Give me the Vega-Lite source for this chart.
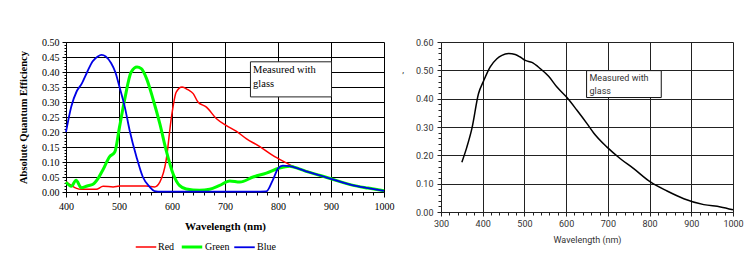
{
  "$schema": "https://vega.github.io/schema/vega-lite/v6.json",
  "background": "white",
  "padding": {"left": 18, "top": 37, "right": 4, "bottom": 4},
  "spacing": 7,
  "config": {
    "view": {"stroke": null}
  },
  "datasets": {
    "rgb": [
      {"channel": "Red", "wavelength": 400, "qe": 0.034},
      {"channel": "Red", "wavelength": 410, "qe": 0.022},
      {"channel": "Red", "wavelength": 420, "qe": 0.012},
      {"channel": "Red", "wavelength": 429, "qe": 0.009},
      {"channel": "Red", "wavelength": 457, "qe": 0.009},
      {"channel": "Red", "wavelength": 470, "qe": 0.019},
      {"channel": "Red", "wavelength": 489, "qe": 0.017},
      {"channel": "Red", "wavelength": 501, "qe": 0.020},
      {"channel": "Red", "wavelength": 551, "qe": 0.020},
      {"channel": "Red", "wavelength": 567, "qe": 0.017},
      {"channel": "Red", "wavelength": 577, "qe": 0.033},
      {"channel": "Red", "wavelength": 589, "qe": 0.106},
      {"channel": "Red", "wavelength": 599, "qe": 0.250},
      {"channel": "Red", "wavelength": 608, "qe": 0.333},
      {"channel": "Red", "wavelength": 619, "qe": 0.350},
      {"channel": "Red", "wavelength": 630, "qe": 0.341},
      {"channel": "Red", "wavelength": 640, "qe": 0.328},
      {"channel": "Red", "wavelength": 649, "qe": 0.300},
      {"channel": "Red", "wavelength": 665, "qe": 0.283},
      {"channel": "Red", "wavelength": 684, "qe": 0.244},
      {"channel": "Red", "wavelength": 702, "qe": 0.222},
      {"channel": "Red", "wavelength": 721, "qe": 0.203},
      {"channel": "Red", "wavelength": 740, "qe": 0.178},
      {"channel": "Red", "wavelength": 765, "qe": 0.152},
      {"channel": "Red", "wavelength": 790, "qe": 0.122},
      {"channel": "Red", "wavelength": 816, "qe": 0.097},
      {"channel": "Red", "wavelength": 828, "qe": 0.086},
      {"channel": "Red", "wavelength": 853, "qe": 0.070},
      {"channel": "Red", "wavelength": 880, "qe": 0.055},
      {"channel": "Red", "wavelength": 900, "qe": 0.044},
      {"channel": "Red", "wavelength": 940, "qe": 0.023},
      {"channel": "Red", "wavelength": 970, "qe": 0.013},
      {"channel": "Red", "wavelength": 1000, "qe": 0.004},
      {"channel": "Green", "wavelength": 400, "qe": 0.033},
      {"channel": "Green", "wavelength": 410, "qe": 0.019},
      {"channel": "Green", "wavelength": 419, "qe": 0.039},
      {"channel": "Green", "wavelength": 429, "qe": 0.014},
      {"channel": "Green", "wavelength": 440, "qe": 0.020},
      {"channel": "Green", "wavelength": 451, "qe": 0.026},
      {"channel": "Green", "wavelength": 460, "qe": 0.044},
      {"channel": "Green", "wavelength": 470, "qe": 0.075},
      {"channel": "Green", "wavelength": 482, "qe": 0.117},
      {"channel": "Green", "wavelength": 492, "qe": 0.133},
      {"channel": "Green", "wavelength": 501, "qe": 0.217},
      {"channel": "Green", "wavelength": 511, "qe": 0.311},
      {"channel": "Green", "wavelength": 523, "qe": 0.400},
      {"channel": "Green", "wavelength": 534, "qe": 0.417},
      {"channel": "Green", "wavelength": 542, "qe": 0.411},
      {"channel": "Green", "wavelength": 552, "qe": 0.378},
      {"channel": "Green", "wavelength": 564, "qe": 0.311},
      {"channel": "Green", "wavelength": 577, "qe": 0.228},
      {"channel": "Green", "wavelength": 589, "qe": 0.139},
      {"channel": "Green", "wavelength": 602, "qe": 0.061},
      {"channel": "Green", "wavelength": 614, "qe": 0.022},
      {"channel": "Green", "wavelength": 627, "qe": 0.010},
      {"channel": "Green", "wavelength": 652, "qe": 0.006},
      {"channel": "Green", "wavelength": 671, "qe": 0.009},
      {"channel": "Green", "wavelength": 690, "qe": 0.022},
      {"channel": "Green", "wavelength": 709, "qe": 0.037},
      {"channel": "Green", "wavelength": 728, "qe": 0.033},
      {"channel": "Green", "wavelength": 753, "qe": 0.050},
      {"channel": "Green", "wavelength": 778, "qe": 0.063},
      {"channel": "Green", "wavelength": 803, "qe": 0.080},
      {"channel": "Green", "wavelength": 822, "qe": 0.086},
      {"channel": "Green", "wavelength": 840, "qe": 0.077},
      {"channel": "Green", "wavelength": 853, "qe": 0.069},
      {"channel": "Green", "wavelength": 880, "qe": 0.055},
      {"channel": "Green", "wavelength": 900, "qe": 0.044},
      {"channel": "Green", "wavelength": 940, "qe": 0.023},
      {"channel": "Green", "wavelength": 970, "qe": 0.013},
      {"channel": "Green", "wavelength": 1000, "qe": 0.004},
      {"channel": "Blue", "wavelength": 400, "qe": 0.200},
      {"channel": "Blue", "wavelength": 410, "qe": 0.285},
      {"channel": "Blue", "wavelength": 420, "qe": 0.335},
      {"channel": "Blue", "wavelength": 430, "qe": 0.362},
      {"channel": "Blue", "wavelength": 440, "qe": 0.400},
      {"channel": "Blue", "wavelength": 450, "qe": 0.435},
      {"channel": "Blue", "wavelength": 460, "qe": 0.452},
      {"channel": "Blue", "wavelength": 467, "qe": 0.457},
      {"channel": "Blue", "wavelength": 475, "qe": 0.452},
      {"channel": "Blue", "wavelength": 485, "qe": 0.430},
      {"channel": "Blue", "wavelength": 493, "qe": 0.400},
      {"channel": "Blue", "wavelength": 501, "qe": 0.350},
      {"channel": "Blue", "wavelength": 511, "qe": 0.283},
      {"channel": "Blue", "wavelength": 520, "qe": 0.206},
      {"channel": "Blue", "wavelength": 533, "qe": 0.117},
      {"channel": "Blue", "wavelength": 545, "qe": 0.050},
      {"channel": "Blue", "wavelength": 558, "qe": 0.017},
      {"channel": "Blue", "wavelength": 567, "qe": 0.003},
      {"channel": "Blue", "wavelength": 580, "qe": 0.001},
      {"channel": "Blue", "wavelength": 650, "qe": 0.001},
      {"channel": "Blue", "wavelength": 750, "qe": 0.001},
      {"channel": "Blue", "wavelength": 778, "qe": 0.002},
      {"channel": "Blue", "wavelength": 790, "qe": 0.039},
      {"channel": "Blue", "wavelength": 800, "qe": 0.078},
      {"channel": "Blue", "wavelength": 809, "qe": 0.088},
      {"channel": "Blue", "wavelength": 822, "qe": 0.086},
      {"channel": "Blue", "wavelength": 840, "qe": 0.077},
      {"channel": "Blue", "wavelength": 853, "qe": 0.069},
      {"channel": "Blue", "wavelength": 880, "qe": 0.055},
      {"channel": "Blue", "wavelength": 900, "qe": 0.044},
      {"channel": "Blue", "wavelength": 940, "qe": 0.023},
      {"channel": "Blue", "wavelength": 970, "qe": 0.013},
      {"channel": "Blue", "wavelength": 1000, "qe": 0.004}
    ],
    "mono": [
      {"wavelength": 350, "qe": 0.176},
      {"wavelength": 362, "qe": 0.229},
      {"wavelength": 374, "qe": 0.294},
      {"wavelength": 390, "qe": 0.418},
      {"wavelength": 402, "qe": 0.462},
      {"wavelength": 418, "qe": 0.512},
      {"wavelength": 434, "qe": 0.541},
      {"wavelength": 446, "qe": 0.553},
      {"wavelength": 462, "qe": 0.559},
      {"wavelength": 478, "qe": 0.556},
      {"wavelength": 490, "qe": 0.547},
      {"wavelength": 502, "qe": 0.535},
      {"wavelength": 518, "qe": 0.528},
      {"wavelength": 538, "qe": 0.506},
      {"wavelength": 558, "qe": 0.479},
      {"wavelength": 578, "qe": 0.441},
      {"wavelength": 602, "qe": 0.404},
      {"wavelength": 626, "qe": 0.359},
      {"wavelength": 650, "qe": 0.312},
      {"wavelength": 666, "qe": 0.279},
      {"wavelength": 698, "qe": 0.229},
      {"wavelength": 730, "qe": 0.188},
      {"wavelength": 762, "qe": 0.153},
      {"wavelength": 802, "qe": 0.106},
      {"wavelength": 842, "qe": 0.074},
      {"wavelength": 882, "qe": 0.047},
      {"wavelength": 930, "qe": 0.026},
      {"wavelength": 970, "qe": 0.018},
      {"wavelength": 1000, "qe": 0.008}
    ]
  },
  "resolve": {
    "scale": {"color": "independent", "strokeWidth": "independent"},
    "legend": {"color": "independent", "strokeWidth": "independent"}
  },
  "hconcat": [
    {
      "width": 318,
      "height": 150,
      "layer": [
        {
          "data": {"name": "rgb"},
          "mark": {"type": "line", "interpolate": "monotone"},
          "encoding": {
            "x": {
              "field": "wavelength", "type": "quantitative",
              "scale": {"domain": [400, 1000], "nice": false, "zero": false},
              "axis": {
                "values": [400,420,440,460,480,500,520,540,560,580,600,620,640,660,680,700,720,740,760,780,800,820,840,860,880,900,920,940,960,980,1000],
                "tickCount": 500,
                "format": "d",
                "labelExpr": "datum.value % 100 === 0 ? datum.label : ''",
                "grid": true,
                "gridColor": "#000",
                "gridWidth": 1,
                "gridOpacity": {"condition": {"test": "datum.value % 100 === 0", "value": 1}, "value": 0},
                "tickSize": {"condition": {"test": "datum.value % 100 === 0", "value": 5}, "value": 3},
                "tickColor": "#000",
                "domainColor": "#000",
                "labelFont": "Liberation Serif", "labelFontSize": 10, "labelColor": "#000",
                "labelFlush": false, "labelOverlap": false, "labelPadding": 4,
                "title": "Wavelength (nm)",
                "titleFont": "Liberation Serif", "titleFontSize": 11, "titleFontWeight": "bold", "titleColor": "#000",
                "titlePadding": 9
              }
            },
            "y": {
              "field": "qe", "type": "quantitative",
              "scale": {"domain": [0, 0.5], "nice": false},
              "axis": {
                "values": [0,0.01,0.02,0.03,0.04,0.05,0.06,0.07,0.08,0.09,0.1,0.11,0.12,0.13,0.14,0.15,0.16,0.17,0.18,0.19,0.2,0.21,0.22,0.23,0.24,0.25,0.26,0.27,0.28,0.29,0.3,0.31,0.32,0.33,0.34,0.35,0.36,0.37,0.38,0.39,0.4,0.41,0.42,0.43,0.44,0.45,0.46,0.47,0.48,0.49,0.5],
                "tickCount": 500,
                "format": ".2f",
                "labelExpr": "abs(datum.value*20 - round(datum.value*20)) < 0.000001 ? datum.label : ''",
                "grid": true,
                "gridColor": "#000",
                "gridOpacity": {"condition": {"test": "abs(datum.value*20 - round(datum.value*20)) < 0.000001", "value": 1}, "value": 0},
                "tickSize": {"condition": {"test": "abs(datum.value*20 - round(datum.value*20)) < 0.000001", "value": 4}, "value": 2},
                "tickColor": "#000",
                "domainColor": "#000",
                "labelFont": "Liberation Serif", "labelFontSize": 10, "labelColor": "#000",
                "labelOverlap": false, "labelPadding": 3,
                "title": "Absolute Quantum Efficiency",
                "titleFont": "Liberation Serif", "titleFontSize": 10.5, "titleFontWeight": "bold", "titleColor": "#000",
                "titlePadding": 13
              }
            },
            "color": {
              "field": "channel", "type": "nominal",
              "scale": {"domain": ["Red", "Green", "Blue"], "range": ["#ff0000", "#00ff00", "#0000e6"]},
              "legend": {
                "orient": "none", "legendX": 69, "legendY": 193,
                "direction": "horizontal", "title": null,
                "symbolType": "stroke", "symbolSize": 420,
                "labelFont": "Liberation Serif", "labelFontSize": 10, "labelColor": "#000",
                "labelOffset": 1, "columnPadding": 0
              }
            },
            "strokeWidth": {
              "field": "channel", "type": "nominal",
              "scale": {"type": "ordinal", "domain": ["Red", "Green", "Blue"], "range": [1.5, 3, 1.8]}
            }
          }
        },
        {
          "data": {"values": [{}]},
          "mark": {"type": "rect", "fill": "white", "stroke": "#222", "strokeWidth": 1},
          "encoding": {
            "x": {"datum": 748, "type": "quantitative"},
            "x2": {"datum": 901},
            "y": {"datum": 0.434, "type": "quantitative"},
            "y2": {"datum": 0.317}
          }
        },
        {
          "data": {"values": [{}]},
          "mark": {"type": "text", "text": ["Measured with", "glass"], "align": "left", "baseline": "top", "font": "Liberation Serif", "fontSize": 10.5, "lineHeight": 14, "color": "#000"},
          "encoding": {
            "x": {"datum": 753, "type": "quantitative"},
            "y": {"datum": 0.422, "type": "quantitative"}
          }
        }
      ]
    },
    {
      "width": 292,
      "height": 170,
      "layer": [
        {
          "data": {"name": "mono"},
          "mark": {"type": "line", "interpolate": "monotone", "color": "#000", "strokeWidth": 1.5},
          "encoding": {
            "x": {
              "field": "wavelength", "type": "quantitative",
              "scale": {"domain": [300, 1000], "nice": false, "zero": false},
              "axis": {
                "values": [300,320,340,360,380,400,420,440,460,480,500,520,540,560,580,600,620,640,660,680,700,720,740,760,780,800,820,840,860,880,900,920,940,960,980,1000],
                "tickCount": 500,
                "format": "d",
                "labelExpr": "datum.value % 100 === 0 ? datum.label : ''",
                "grid": true,
                "gridColor": "#222",
                "gridOpacity": {"condition": {"test": "datum.value % 100 === 0", "value": 1}, "value": 0},
                "tickSize": {"condition": {"test": "datum.value % 100 === 0", "value": 4}, "value": 3},
                "tickColor": "#222",
                "domainColor": "#222",
                "labelFont": "Roboto", "labelFontSize": 9, "labelColor": "#333",
                "labelFlush": false, "labelOverlap": false, "labelPadding": 3,
                "title": "Wavelength (nm)",
                "titleFont": "Roboto", "titleFontSize": 9, "titleFontWeight": "normal", "titleColor": "#333",
                "titlePadding": 7
              }
            },
            "y": {
              "field": "qe", "type": "quantitative",
              "scale": {"domain": [0, 0.6], "nice": false},
              "axis": {
                "values": [0,0.02,0.04,0.06,0.08,0.1,0.12,0.14,0.16,0.18,0.2,0.22,0.24,0.26,0.28,0.3,0.32,0.34,0.36,0.38,0.4,0.42,0.44,0.46,0.48,0.5,0.52,0.54,0.56,0.58,0.6],
                "tickCount": 500,
                "format": ".2f",
                "labelExpr": "abs(datum.value*10 - round(datum.value*10)) < 0.000001 ? datum.label : ''",
                "grid": true,
                "gridColor": "#222",
                "gridOpacity": {"condition": {"test": "abs(datum.value*10 - round(datum.value*10)) < 0.000001", "value": 1}, "value": 0},
                "tickSize": {"condition": {"test": "abs(datum.value*10 - round(datum.value*10)) < 0.000001", "value": 4}, "value": 3},
                "tickColor": "#222",
                "domainColor": "#222",
                "labelFont": "Roboto", "labelFontSize": 9, "labelColor": "#333",
                "labelOverlap": false, "labelPadding": 4,
                "title": ",",
                "titleFont": "Roboto", "titleFontSize": 9, "titleFontWeight": "normal", "titleColor": "#333",
                "titleAngle": 0, "titleAnchor": "end", "titleBaseline": "middle", "titleY": 27, "titlePadding": 12
              }
            }
          }
        },
        {
          "data": {"values": [{}]},
          "mark": {"type": "rect", "fill": "white", "stroke": "#111", "strokeWidth": 1},
          "encoding": {
            "x": {"datum": 649, "type": "quantitative"},
            "x2": {"datum": 828},
            "y": {"datum": 0.499, "type": "quantitative"},
            "y2": {"datum": 0.404}
          }
        },
        {
          "data": {"values": [{}]},
          "mark": {"type": "text", "text": ["Measured with", "glass"], "align": "left", "baseline": "top", "font": "Roboto", "fontSize": 9, "lineHeight": 12.5, "color": "#333"},
          "encoding": {
            "x": {"datum": 656, "type": "quantitative"},
            "y": {"datum": 0.487, "type": "quantitative"}
          }
        }
      ]
    }
  ]
}
